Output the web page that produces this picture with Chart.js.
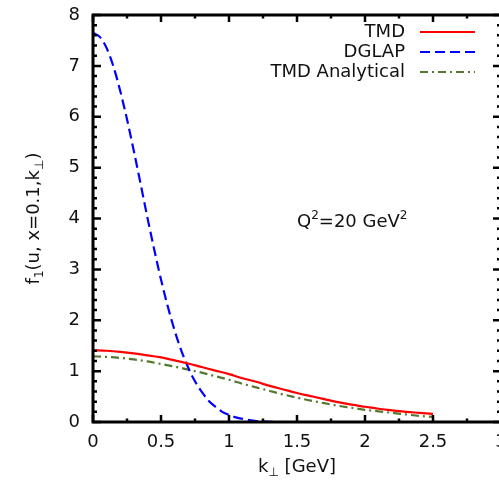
<!DOCTYPE html>
<html>
<head>
<meta charset="utf-8">
<script src="https://cdn.jsdelivr.net/npm/chart.js@4.4.0/dist/chart.umd.min.js"></script>
<style>
  html, body { margin: 0; padding: 0; background: #fff; overflow: hidden; }
  canvas { display: block; }
</style>
</head>
<body>
<canvas id="chart" width="520" height="486"></canvas>
<script>
/* global Chart */
// k_perp grid and values
var kDglap = [0, 0.05, 0.1, 0.15, 0.2, 0.25, 0.3, 0.35, 0.4, 0.45, 0.5, 0.55, 0.6, 0.65, 0.7, 0.75,
  0.8, 0.85, 0.9, 0.95, 1.0, 1.05, 1.1, 1.15, 1.2, 1.25, 1.3, 1.35, 1.4, 1.45, 1.5]
var dglap = [7.65, 7.57, 7.35, 6.99, 6.51, 5.95, 5.33, 4.68, 4.02, 3.39, 2.80, 2.27, 1.80, 1.40, 1.07, 0.80,
  0.59, 0.42, 0.30, 0.20, 0.14, 0.09, 0.06, 0.04, 0.02, 0.01, 0.005, 0, 0, 0, 0]

var kTmd = [0, 0.1, 0.2, 0.3, 0.4, 0.5, 0.6, 0.7, 0.8, 0.9, 1.0, 1.1, 1.2, 1.3, 1.4, 1.5, 1.6, 1.7, 1.8,
  1.9, 2.0, 2.1, 2.2, 2.3, 2.4, 2.5]
var tmd = [1.41, 1.40, 1.38, 1.35, 1.31, 1.27, 1.21, 1.15, 1.08, 1.01, 0.94, 0.86, 0.79, 0.71, 0.64, 0.57,
  0.51, 0.45, 0.39, 0.34, 0.30, 0.26, 0.23, 0.20, 0.18, 0.16]
var tmdAnalytical = [1.29, 1.28, 1.26, 1.23, 1.19, 1.14, 1.09, 1.03, 0.97, 0.90, 0.83, 0.75, 0.68, 0.61, 0.54,
  0.48, 0.42, 0.37, 0.32, 0.28, 0.24, 0.21, 0.18, 0.15, 0.12, 0.10]

var seriesNames = ['TMD', 'DGLAP', 'TMD Analytical']
var xTicks = [0, 0.5, 1, 1.5, 2, 2.5, 3]
var yTicks = [0, 1, 2, 3, 4, 5, 6, 7, 8]

var FONT = '"DejaVu Sans", sans-serif'
var INK = '#111'

function points(xs, ys) {
  return xs.map(function (x, i) { return { x: x, y: ys[i] } })
}

// pieces are [text, size, shift], shift > 0 moves the piece down
function drawPieces(ctx, pieces, x, y, align) {
  var total = 0
  pieces.forEach(function (p) {
    ctx.font = p[1] + 'px ' + FONT
    total += ctx.measureText(p[0]).width
  })
  var cx = align === 'center' ? x - total / 2 : x
  ctx.textAlign = 'left'
  ctx.textBaseline = 'alphabetic'
  pieces.forEach(function (p) {
    ctx.font = p[1] + 'px ' + FONT
    ctx.fillText(p[0], cx, y + p[2])
    cx += ctx.measureText(p[0]).width
  })
}

// keep the plot box where the reference has it
function noPadding(scale) {
  scale.paddingTop = 0
  scale.paddingBottom = 0
  scale.paddingLeft = 0
  scale.paddingRight = 0
}

// inward ticks on all four sides plus the frame
var framePlugin = {
  id: 'frame',
  afterDatasetsDraw: function (chart) {
    var ctx = chart.ctx
    var a = chart.chartArea
    var xs = chart.scales.x
    var ys = chart.scales.y
    var i, px, len

    ctx.save()
    ctx.strokeStyle = '#000'
    ctx.lineWidth = 2.5
    ctx.beginPath()
    for (i = 0; i <= 12; i++) {
      px = xs.getPixelForValue(i * 0.25)
      len = i % 2 === 0 ? 7 : 3.5
      ctx.moveTo(px, a.bottom)
      ctx.lineTo(px, a.bottom - len)
      ctx.moveTo(px, a.top)
      ctx.lineTo(px, a.top + len)
    }
    for (i = 0; i <= 40; i++) {
      px = ys.getPixelForValue(i * 0.2)
      len = i % 5 === 0 ? 8 : 4
      ctx.moveTo(a.left, px)
      ctx.lineTo(a.left + len, px)
      ctx.moveTo(a.right, px)
      ctx.lineTo(a.right - len, px)
    }
    ctx.stroke()
    ctx.lineWidth = 3
    ctx.strokeRect(a.left, a.top, a.right - a.left, a.bottom - a.top)
    ctx.restore()
  }
}

// legend top right: text right aligned, sample line after it
var legendPlugin = {
  id: 'sideLegend',
  afterDraw: function (chart) {
    var ctx = chart.ctx
    ctx.save()
    chart.data.datasets.forEach(function (ds, i) {
      var y = 32 + i * 20
      ctx.font = '18px ' + FONT
      ctx.fillStyle = INK
      ctx.textAlign = 'right'
      ctx.textBaseline = 'middle'
      ctx.fillText(ds.label, 405, y)
      ctx.strokeStyle = ds.borderColor
      ctx.lineWidth = ds.borderWidth
      ctx.setLineDash(ds.borderDash || [])
      ctx.beginPath()
      ctx.moveTo(420, y)
      ctx.lineTo(475, y)
      ctx.stroke()
    })
    ctx.restore()
  }
}

// axis titles and the Q^2 note, with sub/superscripts
var textPlugin = {
  id: 'texts',
  afterDraw: function (chart) {
    var ctx = chart.ctx
    var a = chart.chartArea
    ctx.save()
    ctx.fillStyle = INK
    drawPieces(ctx, [['k', 18, 0], ['\u22A5', 12, 4], [' [GeV]', 18, 0]],
      (a.left + a.right) / 2, 472, 'center')
    drawPieces(ctx, [['Q', 18, 0], ['2', 12, -8], ['=20 GeV', 18, 0], ['2', 12, -8]], 297, 227, 'left')
    ctx.translate(39, (a.top + a.bottom) / 2)
    ctx.rotate(-Math.PI / 2)
    drawPieces(ctx, [['f', 18, 0], ['1', 12, 4], ['(u, x=0.1,k', 18, 0], ['\u22A5', 12, 4], [')', 18, 0]],
      0, 0, 'center')
    ctx.restore()
  }
}

var chart = new Chart(document.getElementById('chart'), {
  type: 'line',
  data: {
    datasets: [{
      label: seriesNames[0],
      data: points(kTmd, tmd),
      borderColor: '#ff0000',
      borderWidth: 2.2
    }, {
      label: seriesNames[1],
      data: points(kDglap, dglap),
      borderColor: '#0000ff',
      borderWidth: 2.2,
      borderDash: [10, 5]
    }, {
      label: seriesNames[2],
      data: points(kTmd, tmdAnalytical),
      borderColor: '#55782f',
      borderWidth: 2.2,
      borderDash: [8, 4, 2, 4]
    }]
  },
  options: {
    responsive: false,
    animation: false,
    devicePixelRatio: 1,
    parsing: false,
    elements: {
      point: { radius: 0 },
      line: { fill: false, cubicInterpolationMode: 'monotone' }
    },
    layout: { padding: { top: 15, right: 19, left: 0, bottom: 0 } },
    plugins: {
      legend: { display: false },
      tooltip: { enabled: false }
    },
    scales: {
      x: {
        type: 'linear',
        min: 0,
        max: 3,
        grid: { display: false, drawTicks: false },
        border: { display: false },
        afterBuildTicks: function (scale) {
          scale.ticks = xTicks.map(function (v) { return { value: v } })
        },
        afterFit: function (scale) {
          scale.height = 64
          noPadding(scale)
        },
        ticks: {
          autoSkip: false,
          maxRotation: 0,
          padding: 10,
          color: INK,
          font: { family: FONT, size: 18 },
          callback: function (v) { return String(v) }
        }
      },
      y: {
        type: 'linear',
        min: 0,
        max: 8,
        grid: { display: false, drawTicks: false },
        border: { display: false },
        afterBuildTicks: function (scale) {
          scale.ticks = yTicks.map(function (v) { return { value: v } })
        },
        afterFit: function (scale) {
          scale.width = 93
          noPadding(scale)
        },
        ticks: {
          padding: 13,
          color: INK,
          font: { family: FONT, size: 18 },
          callback: function (v) { return String(v) }
        }
      }
    }
  },
  plugins: [framePlugin, legendPlugin, textPlugin]
})
</script>
</body>
</html>
